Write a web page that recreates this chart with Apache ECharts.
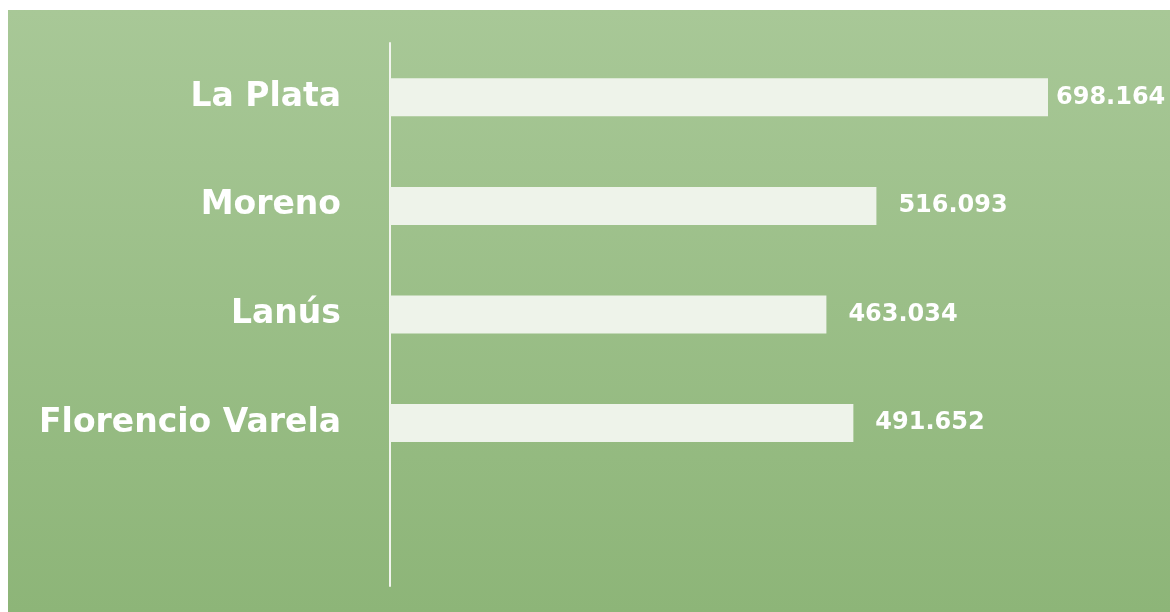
<!DOCTYPE html>
<html>
<head>
<meta charset="utf-8">
<script src="https://cdn.jsdelivr.net/npm/echarts@6/dist/echarts.min.js"></script>
<style>
  html, body { margin: 0; padding: 0; background: #fff; }
  #chart { position: absolute; left: 8px; top: 10px; width: 1162px; height: 602px; }
</style>
</head>
<body>
<div id="chart"></div>
<script>
// categories (top to bottom), last one is an empty row
const categories = ['La Plata', 'Moreno', 'Lanús', 'Florencio Varela', ''];
const values = [698.164, 516.093, 463.034, 491.652, null];
const valueLabels = ['698.164', '516.093', '463.034', '491.652', ''];

const chart = echarts.init(document.getElementById('chart'));

chart.setOption({
  backgroundColor: {
    type: 'linear', x: 0, y: 0, x2: 0, y2: 1,
    colorStops: [
      { offset: 0, color: '#a8c897' },
      { offset: 1, color: '#8db578' }
    ]
  },
  animation: false,
  grid: { left: 382, right: 122, top: 33, bottom: 26 },
  xAxis: {
    type: 'value',
    min: 0,
    max: 698.164,
    show: false
  },
  yAxis: {
    type: 'category',
    inverse: true,
    data: categories,
    axisLine: { show: true, lineStyle: { color: '#f2f5ee', width: 2 } },
    axisTick: { show: false },
    axisLabel: {
      color: '#ffffff',
      fontFamily: 'DejaVu Sans',
      fontWeight: 'bold',
      fontSize: 33,
      margin: 49
    }
  },
  series: [{
    type: 'bar',
    barWidth: 38,
    itemStyle: { color: '#eef3ea' },
    data: values.map((v, i) => ({
      value: v,
      label: { distance: i === 0 ? 8 : 22 }
    })),
    label: {
      show: true,
      position: 'right',
      color: '#ffffff',
      fontFamily: 'DejaVu Sans',
      fontWeight: 'bold',
      fontSize: 24,
      formatter: p => valueLabels[p.dataIndex]
    }
  }]
});
</script>
</body>
</html>
